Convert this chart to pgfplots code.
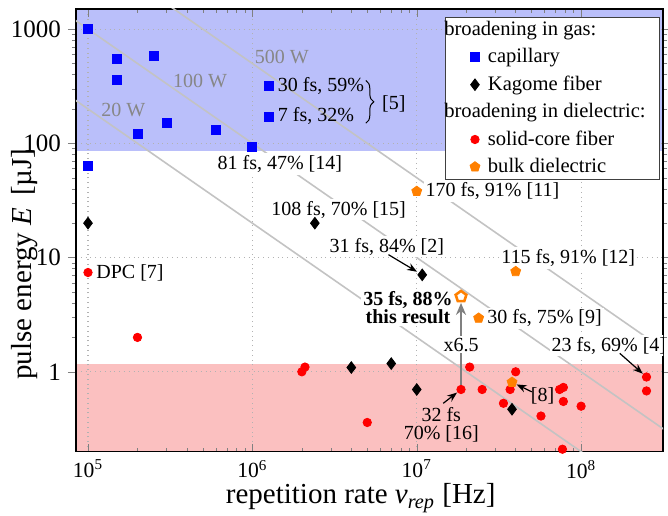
\documentclass[border=0pt]{standalone}
\usepackage{fontspec}
\setmainfont{Liberation Serif}
\usepackage{pgfplots}
\pgfplotsset{compat=1.18}
\usetikzlibrary{plotmarks,arrows.meta,decorations.pathreplacing}

\definecolor{bandblue}{RGB}{186,191,250}
\definecolor{bandred}{RGB}{251,192,192}
\definecolor{bulkorange}{RGB}{255,128,0}
\definecolor{wline}{RGB}{195,195,195}
\definecolor{wtext}{RGB}{135,135,135}
\tikzset{annot/.style={font=\fontsize{10}{9}\selectfont, inner sep=1pt}}

\begin{document}
\begin{tikzpicture}
\begin{axis}[
  set layers,
  scale only axis, width=293.6pt, height=221.4pt,
  xmode=log, ymode=log,
  xmin=8.45e4, xmax=3.15e8, ymin=0.2, ymax=1500,
  xtick={1e5,1e6,1e7,1e8},
  xticklabels={10\textsuperscript{5},10\textsuperscript{6},10\textsuperscript{7},10\textsuperscript{8}},
  ytick={1,10,100,1000}, yticklabels={1,10,100,1000},
  grid=major, major grid style={dotted, line width=0.6pt, gray!60},
  xtick align=inside, ytick align=outside,
  major tick length=4pt, minor tick length=2pt,
  axis line style={line width=0.6pt},
  yticklabel style={font=\fontsize{12.5}{14}\selectfont},
  xticklabel style={font=\fontsize{10.8}{12}\selectfont, inner sep=0.5pt, yshift=-3.5pt},
  xlabel={repetition rate \textit{ν}\textsubscript{\textit{rep}} [Hz]},
  ylabel={pulse energy \textit{E}\, [µJ]},
  every axis x label/.style={at={(axis description cs:0.485,-0.118)}, anchor=base,
    inner sep=0pt, font=\fontsize{14.5}{16}\selectfont},
  every axis y label/.style={at={(axis description cs:-0.087,0.424)}, rotate=90, anchor=center,
    inner sep=0pt, font=\fontsize{14.5}{16}\selectfont},
  legend image code/.code={\draw[mark repeat=2,mark phase=2]
    plot coordinates {(0cm,0cm) (0.35cm,0cm) (0.7cm,0cm)};},
  legend style={at={(1,1)}, anchor=north east, xshift=-1.5pt, yshift=-4pt,
    font=\fontsize{10.3}{12}\selectfont, draw=black!75, fill=white,
    inner xsep=5pt, inner ysep=0pt, row sep=1pt, column sep=2pt},
  legend cell align=left,
]
% shaded regions
\addplot[on layer=axis background, fill=bandblue, draw=none, forget plot]
  coordinates {(8.45e4,86) (3.15e8,86) (3.15e8,1500) (8.45e4,1500)};
\addplot[on layer=axis background, fill=bandred, draw=none, forget plot]
  coordinates {(8.45e4,0.2) (3.15e8,0.2) (3.15e8,1.18) (8.45e4,1.18)};

% constant average power lines
\addplot[wline, line width=0.8pt, forget plot] coordinates {(5e4,400) (4e8,0.05)};
\addplot[wline, line width=0.8pt, forget plot] coordinates {(5e4,2000) (4e8,0.25)};
\addplot[wline, line width=0.8pt, forget plot] coordinates {(1e5,5000) (4e8,1.25)};
\node[annot, text=wtext, font=\fontsize{10}{12}\selectfont] at (axis cs:1.51e6,565) {500 W};
\node[annot, text=wtext, font=\fontsize{10}{12}\selectfont] at (axis cs:4.8e5,353) {100 W};
\node[annot, text=wtext, font=\fontsize{10}{12}\selectfont] at (axis cs:1.64e5,197) {20 W};

% annotations
\node[annot, anchor=west, xshift=3.3pt] at (axis cs:1.26e6,319) {30 fs, 59\%};
\node[annot, anchor=west, xshift=3.3pt] at (axis cs:1.26e6,172) {7 fs, 32\%};
\draw[decorate, decoration={brace, amplitude=4pt}, line width=0.5pt]
  (axis cs:4.9e6,355) -- (axis cs:4.9e6,150);
\node[annot] at (axis cs:7.25e6,222) {[5]};
\node[annot, fill=white] at (axis cs:1.47e6,66) {81 fs, 47\% [14]};
\node[annot, fill=white] at (axis cs:3.35e6,26.2) {108 fs, 70\% [15]};
\node[annot, fill=white] at (axis cs:6.58e6,12.5) {31 fs, 84\% [2]};
\draw[-{Stealth[length=5pt]}, line width=0.6pt, shorten >=3pt] (axis cs:6.73e6,10.6) -- (axis cs:1.08e7,7.06);
\node[annot, fill=white, align=center, font=\bfseries\fontsize{10}{9.3}\selectfont] at (axis cs:8.85e6,3.66) {35 fs, 88\%\\this result};
\node[annot, anchor=west, xshift=3.2pt, fill=white] at (axis cs:1e7,38) {170 fs, 91\% [11]};
\node[annot, fill=white] at (axis cs:8.36e7,9.9) {115 fs, 91\% [12]};
\node[annot, anchor=west, xshift=3.2pt, fill=white] at (axis cs:2.38e7,2.95) {30 fs, 75\% [9]};
\node[annot, fill=white] at (axis cs:1.476e8,1.69) {23 fs, 69\% [4]};
\draw[-{Stealth[length=5pt]}, line width=0.6pt, shorten >=2.5pt] (axis cs:1.72e8,1.45) -- (axis cs:2.5e8,0.9);
\node[annot, anchor=west, xshift=3pt, fill=white] at (axis cs:1e5,7.4) {DPC [7]};
\node[annot] at (axis cs:5.83e7,0.617) {[8]};
\draw[-{Stealth[length=5pt]}, line width=0.6pt, shorten >=2.5pt] (axis cs:5.01e7,0.668) -- (axis cs:3.8e7,0.81);
\node[annot, align=center] at (axis cs:1.41e7,0.342) {32 fs\\70\% [16]};
\draw[-{Stealth[length=5pt]}, line width=0.6pt, shorten >=2.5pt] (axis cs:1.45e7,0.53) -- (axis cs:1.86e7,0.70);
% x6.5 arrow
\draw[-{Stealth[length=6pt,width=5pt]}, gray, line width=1.2pt, shorten <=2.2pt, shorten >=3.2pt]
  (axis cs:1.86e7,0.70) -- (axis cs:1.86e7,4.56);
\node[annot, fill=white, font=\fontsize{10}{12}\selectfont] at (axis cs:1.86e7,1.73) {x6.5};

% data
\addlegendimage{empty legend}
\addlegendentry{\hspace{-21.8pt}broadening in gas:}
\addplot[only marks, mark=square*, mark size=2.25pt, color=blue] coordinates {
  (1e5,1000) (1e5,63) (1.5e5,553) (1.5e5,356) (2.5e5,585) (2e5,121)
  (3e5,151) (6e5,131) (1e6,94) (1.26e6,319) (1.26e6,172)
};
\addlegendentry{capillary}
\addplot[only marks, mark=diamond*, mark size=2.9pt, color=black] coordinates {
  (1e5,20) (2.4e6,20) (1.08e7,7.06) (4e6,1.09) (7e6,1.18) (1e7,0.70) (3.8e7,0.47)
};
\addlegendentry{Kagome fiber}
\addlegendimage{empty legend}
\addlegendentry{\hspace{-21.8pt}broadening in dielectric:}
\addplot[only marks, mark=*, mark size=2.1pt, color=red] coordinates {
  (1e5,7.4) (2e5,2.0) (2e6,1.0) (2.09e6,1.1) (5e6,0.36) (1.86e7,0.70)
  (2.1e7,1.1) (2.5e7,0.70) (3.37e7,0.53) (3.7e7,0.70) (4e7,1.0) (5.7e7,0.41)
  (7.4e7,0.70) (7.8e7,0.73) (7.8e7,0.55) (1e8,0.50) (7.7e7,0.21)
  (2.5e8,0.90) (2.5e8,0.68)
};
\addlegendentry{solid-core fiber}
\addplot[only marks, mark=pentagon*, mark size=2.6pt, color=bulkorange] coordinates {
  (1e7,38) (4e7,7.55) (2.38e7,2.95) (3.8e7,0.81)
};
\addlegendentry{bulk dielectric}
\addplot[only marks, mark=pentagon, mark size=2.8pt, mark options={draw=bulkorange, fill=white, line width=1.3pt}, forget plot]
  coordinates {(1.86e7,4.56)};
\end{axis}
\pgfresetboundingbox
\useasboundingbox ([xshift=-38pt,yshift=-32.15pt]current axis.south west)
  rectangle ([xshift=2.5pt,yshift=4.5pt]current axis.north east);
\end{tikzpicture}
\end{document}
